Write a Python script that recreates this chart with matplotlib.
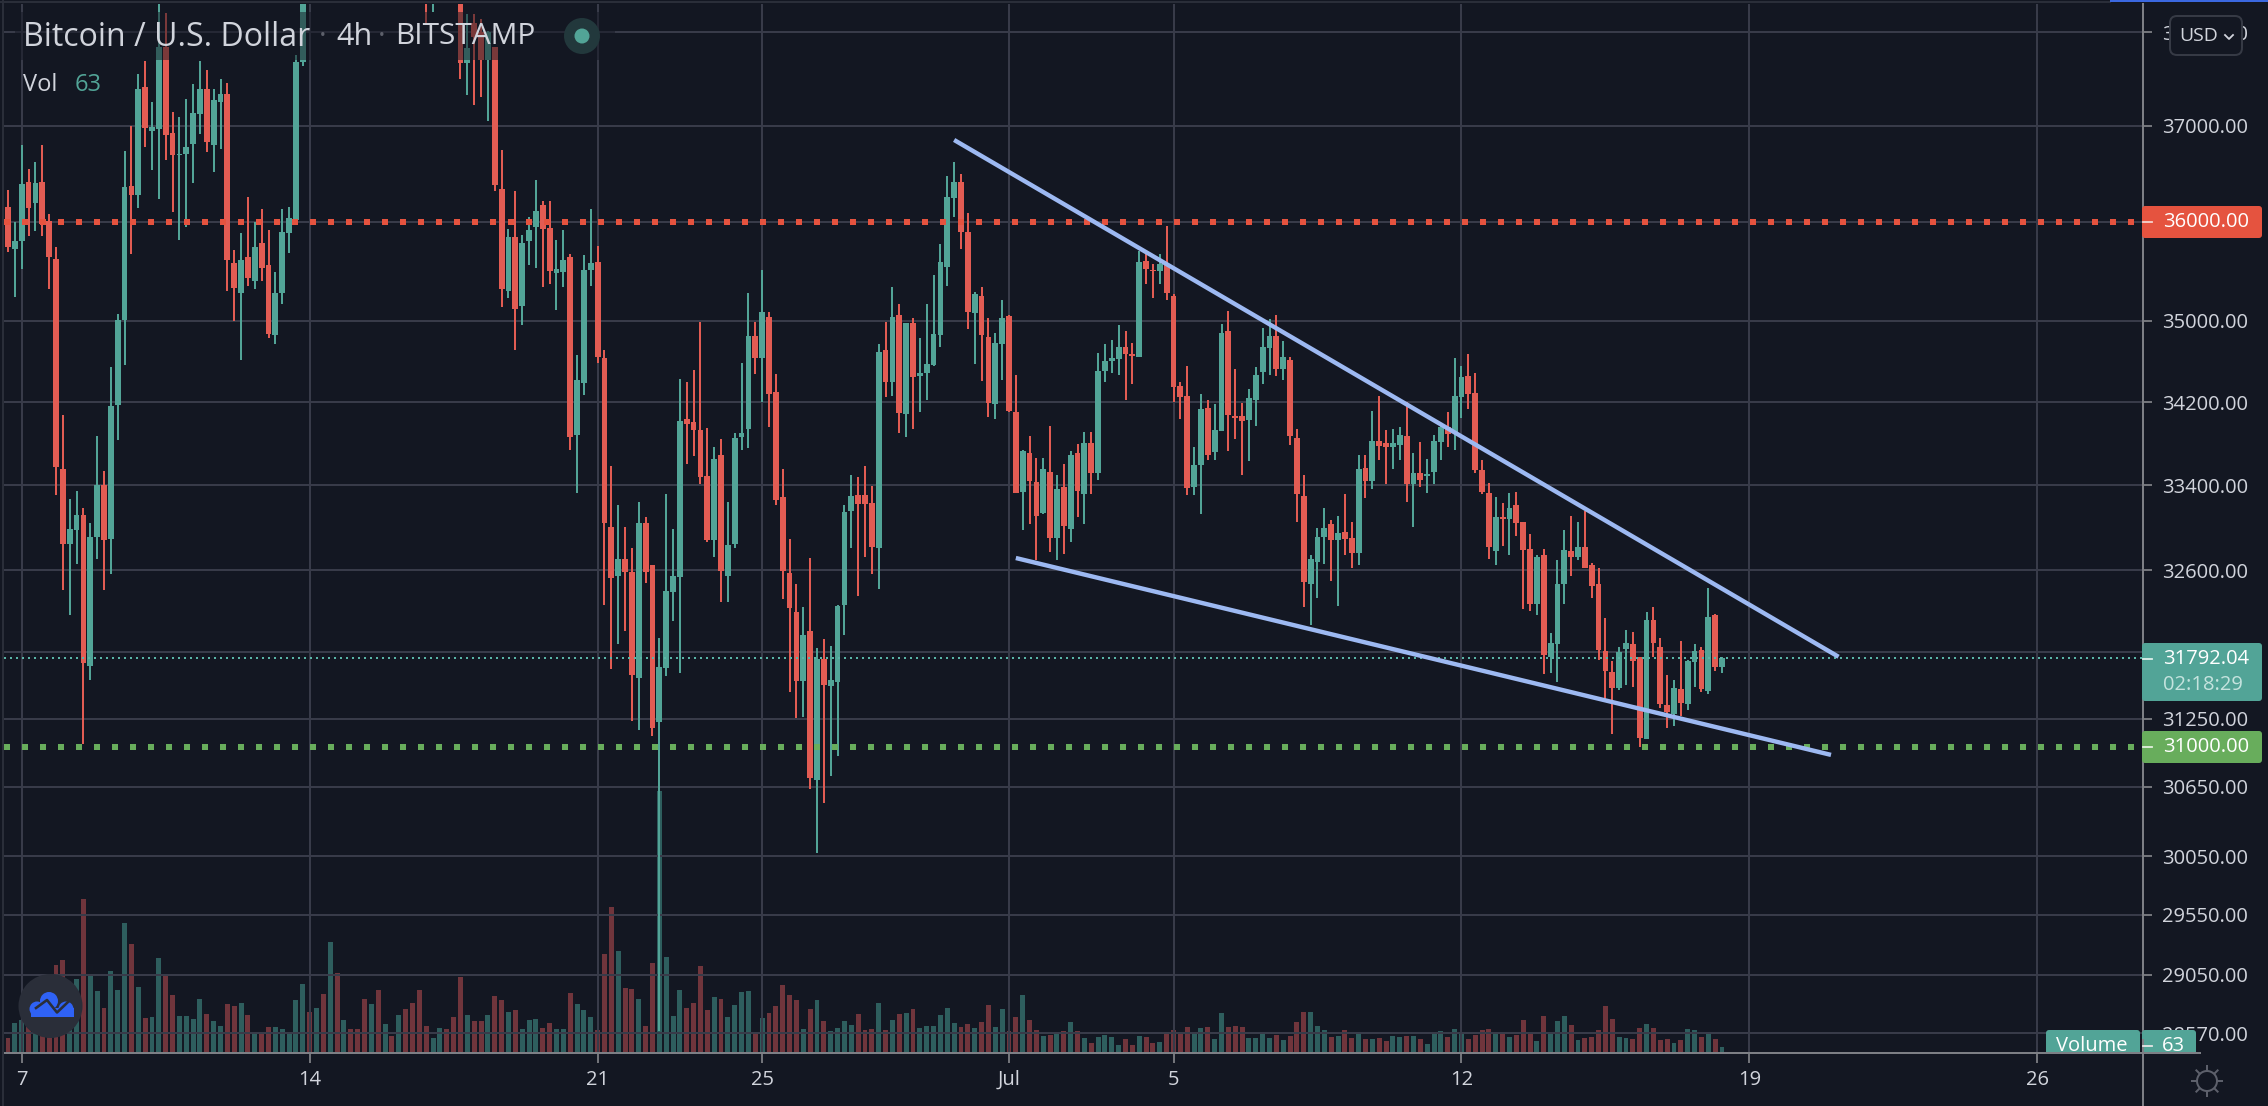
import numpy as np
import matplotlib
matplotlib.use("Agg")
import matplotlib.pyplot as plt
from matplotlib.patches import Rectangle, Circle, FancyBboxPatch

plt.rcParams['font.family'] = ['Open Sans', 'DejaVu Sans']

# ---------------- data (4h candles, Bitcoin / U.S. Dollar, BITSTAMP) ----------------
opens = [36157,35721,35804,36414,36192,36414,36015,35623,33554,32848,
 32973,33117,31720,32915,33400,32892,34172,35010,36374,36283,
 37417,36950,36970,37844,36924,36697,36707,36808,37130,37396,
 36798,37250,37339,35588,35285,35647,35402,35784,35564,34856,
 35285,35892,36025,37677,38800,38600,39200,39000,39900,39600,
 39800,39600,39400,38900,39400,38800,38950,38800,39300,38900,
 38600,38500,38350,38800,39200,39100,38800,37666,38104,38000,
 37703,37844,36343,35304,35843,35147,35804,35951,36177,35941,
 35485,35490,35647,33882,34387,35510,35593,34631,33007,32551,
 32708,32587,31612,33043,32650,31224,31703,32402,32542,34037,
 34005,33926,33484,32885,33688,32551,32849,33860,33935,34850,
 34636,35044,34296,33287,32578,32218,31586,32039,30708,31785,
 31543,31582,32281,33156,33305,33305,33233,32803,34708,34392,
 35064,34088,34976,34454,34483,34568,34856,35542,36252,36417,
 35901,35079,35251,34837,34177,34770,35049,34107,33332,33712,
 33428,33133,33530,32903,33382,32989,33707,33314,33800,33516,
 34502,34602,34622,34746,34669,34645,35606,35512,35502,35566,
 35251,34353,34262,33386,33590,34141,33715,33922,34902,34063,
 34067,34030,34223,34498,34736,34853,34525,34615,33852,33293,
 32476,32681,32912,33033,32884,32959,32905,32763,33563,33437,
 33823,33804,33767,33786,33871,33407,33515,33489,33523,33815,
 33963,33904,34249,34457,34290,33541,33322,32784,33094,33080,
 33211,33055,32802,32285,32738,31805,31924,32469,32784,32727,
 32820,32653,32469,31857,31672,31528,31878,31924,31805,31069,
 32144,31896,31373,31291,31517,31384,31761,31868,31500,32190,
 31716]
closes = [35745,35809,36394,36141,36404,35980,35642,33578,32848,32987,
 33117,31750,32915,33400,32883,34167,35010,36359,36283,37396,
 36975,36990,37844,36909,36697,36707,36778,37141,37396,36833,
 37271,37339,35613,35334,35618,35431,35745,35534,34871,35279,
 35897,36040,37677,38800,38600,39200,39000,39900,39600,39800,
 39600,39400,38900,39400,38800,38950,38800,39300,38900,38600,
 38500,38350,38800,39200,39100,38800,37672,37833,37948,37703,
 38000,36379,35324,35843,35123,35784,35917,36116,35931,35500,
 35520,35613,33859,34416,35515,35583,34641,33043,32524,32708,
 32587,31642,33043,32587,31168,31712,32411,32551,34014,33986,
 33926,33474,32885,33646,32595,32840,33851,33898,34850,34631,
 35089,34281,33260,32595,32254,31586,32003,30723,31790,31552,
 31595,32272,33147,33296,33219,33219,32821,34689,34392,35044,
 34098,34976,34444,34483,34578,34866,35596,36262,36417,35901,
 35089,35271,34856,34195,34780,35025,34112,33328,33730,33442,
 33111,33558,32903,33368,33016,33688,33341,33800,33516,34502,
 34602,34631,34746,34669,34650,35596,35522,35502,35576,35280,
 34348,34253,33373,33591,34133,33693,33930,34879,34078,34048,
 34019,34241,34469,34744,34853,34525,34646,33871,33315,32487,
 32709,32912,32998,32884,32951,32894,32763,33552,33437,33823,
 33775,33767,33804,33882,33407,33515,33445,33504,33823,33956,
 33889,34260,34446,34279,33541,33332,32820,33101,33080,33183,
 33044,32791,32288,32727,31826,31931,32469,32791,32727,32820,
 32625,32458,31867,31678,31528,31850,31931,31768,31079,32137,
 31931,31384,31312,31528,31387,31768,31857,31517,32172,31716,
 31792]
highs = [36333,36000,36798,36545,36621,36798,36081,35745,34078,33265,
 33346,33184,33041,33868,33531,34545,35069,36737,37000,37557,
 37687,37250,38400,38208,37146,37100,37287,37443,37687,37593,
 37396,37500,37453,35716,35892,36263,36005,36131,35917,35490,
 36131,36152,37760,38900,39000,39300,39400,40000,40200,39900,
 40000,39700,39500,39500,39500,39000,39000,39400,39400,39000,
 38800,38700,38900,39300,39300,39200,38900,38198,38198,38146,
 38015,37844,36748,35931,36318,35873,36055,36434,36217,36217,
 35819,35917,35676,34665,35666,36131,35755,34708,33586,33215,
 33000,32803,33242,33102,32650,31976,33314,32989,34430,34392,
 34516,34990,33944,33763,33842,33242,33898,34588,35283,34986,
 35512,35089,34473,33553,32894,32475,32263,32717,31886,31967,
 31904,32281,33210,33493,33474,33581,33391,34770,34986,35340,
 35168,34976,35025,34832,35172,35463,35778,36478,36623,36498,
 36091,35291,35340,35025,34885,35207,35059,34463,33735,33870,
 33661,33661,33972,33493,33600,33730,33791,33912,33912,34679,
 34770,34808,34957,34899,34784,35704,35689,35576,35679,35956,
 35271,34401,34550,33763,34279,34219,34181,34970,35097,34521,
 34189,34328,34548,34928,35019,35058,34804,34646,33941,33493,
 32745,32998,33183,33069,33108,33315,33055,33686,33689,34115,
 34260,33930,33941,33960,34200,33708,33815,33649,33882,33982,
 34104,34631,34554,34676,34487,33638,33422,33286,33229,33322,
 33332,33055,32937,32745,32802,32023,32699,32980,33108,33055,
 33158,32668,32618,32155,31768,31896,32052,32034,31805,32211,
 32264,31974,31645,31600,31953,31775,31924,31896,32438,32200,
 31805]
lows = [35696,35245,35525,35858,35907,35858,35319,33310,32420,32185,
 32658,31025,31593,32703,32420,32569,33830,34559,35672,36147,
 36778,36535,36242,36646,36106,35814,35951,36404,36914,36727,
 36515,36763,35304,35000,34617,35353,35319,35402,34832,34770,
 35167,35682,36015,37641,38500,38500,38900,38900,39500,39500,
 39500,39300,38800,38800,38700,38700,38700,38700,38800,38500,
 38400,38083,38224,38700,39000,38700,37500,37328,37219,37312,
 37052,36318,35137,35235,34708,34962,35559,35530,35343,35373,
 35108,35343,33737,33328,34272,35353,34588,32281,31693,31922,
 32039,31233,31151,32479,31099,28590,31634,32133,31660,33600,
 33679,33409,32867,32727,32308,32308,32808,33735,33753,34473,
 34200,33954,33210,32335,31491,31259,31267,30633,30079,30511,
 30744,30923,32003,32812,32358,32727,32569,32429,34253,34262,
 33898,33865,33935,34102,34224,34554,34737,35349,36055,35729,
 34919,34578,34406,34051,34033,34420,34107,33323,32980,33034,
 32695,33124,32772,32695,32754,32867,33102,33034,33314,33451,
 34392,34483,34463,34224,34382,34645,35369,35226,35374,35212,
 34200,34037,33305,33305,33129,33638,33645,33919,33726,33841,
 33496,33634,33967,34382,34464,34456,34419,33786,33048,32257,
 32091,32341,32656,32504,32274,32738,32617,32645,33275,33368,
 33641,33415,33552,33641,33240,33005,33379,33322,33415,33641,
 33767,33738,34041,34133,33515,33315,32709,32652,32830,32745,
 32923,32239,32228,32183,31651,31661,31579,32288,32543,32699,
 32625,32341,31781,31418,31113,31507,31552,31535,31000,31069,
 31805,31343,31168,31185,31271,31329,31535,31490,31473,31679,
 31661]
volumes = [169,347,390,331,449,331,292,1032,1091,528,
 867,1812,902,725,524,961,737,1529,1281,772,
 406,418,1115,914,678,429,429,394,630,453,
 370,311,571,548,583,441,229,217,299,299,
 276,217,619,808,477,524,690,1304,938,382,
 276,276,630,571,737,335,193,441,512,583,
 737,311,169,288,276,418,890,441,370,370,
 441,666,619,477,500,276,382,394,288,347,
 276,276,701,571,500,418,264,1162,1718,1198,
 760,749,630,311,1056,3085,1127,429,737,524,
 583,1020,500,654,630,418,559,713,725,217,
 406,465,548,796,678,619,276,512,619,370,
 252,288,370,323,453,264,276,583,264,382,
 453,465,512,288,311,311,441,524,347,299,
 335,288,359,559,299,512,252,418,678,382,
 264,193,205,240,252,359,252,169,110,181,
 205,181,87,158,87,193,181,110,122,217,
 264,229,299,229,288,299,158,465,299,311,
 299,169,169,229,169,205,146,193,359,477,
 477,311,264,181,193,264,169,240,158,158,
 169,134,193,181,193,193,158,99,217,252,
 181,276,240,158,205,264,276,217,229,181,
 205,382,217,134,429,229,370,429,323,146,
 169,181,264,548,394,181,169,158,288,335,
 288,146,158,110,146,276,264,181,229,158,
 63]

price_ticks = [38000,37000,36000,35000,34200,33400,32600,31850,31250,30650,30050,29550,29050,28570]
price_labels = ['38000.00','37000.00','36000.00','35000.00','34200.00','33400.00','32600.00','',
                '31250.00','30650.00','30050.00','29550.00','29050.00','28570.00']
date_ticks = [2,44,86,110,146,170,212,254,296]       # candle index of each date
date_labels = ['7','14','21','25','Jul','5','12','19','26']

resistance = 36000
support = 31000
last_price = 31792.04
upper_trend_x, upper_trend_y = [138.0,267.0],[36853,31806]
lower_trend_x, lower_trend_y = [147.0,265.9],[32714,30929]

# ---------------- style ----------------
BG='#131722'; GRID='#383b49'; AXC='#7d7f85'; TXT='#d1d4dc'
UP='#52a497'; DOWN='#e25c53'
VUP='#4fb3a7'; VDOWN='#e0595c'
TREND='#9db9f2'; RES='#e5533f'; SUP='#68ad5c'
W,H=2268,1106
px=0.72

fig=plt.figure(figsize=(W/100,H/100),dpi=100,facecolor=BG)
rect=[4/W,(H-1052.5)/H,(2143-4)/W,(1052.5-4)/H]
xlim=((4-8)/6.856,(2143-8)/6.856)
ylim=(28414,38309)

axv=fig.add_axes(rect,zorder=1,facecolor=BG)
ax=fig.add_axes(rect,zorder=2,facecolor='none')

x=np.arange(len(opens))
o,h,l,c=map(np.array,(opens,highs,lows,closes))
up=c>=o

axv.bar(x,volumes,width=0.72,color=[VUP if u else VDOWN for u in up],alpha=0.46,linewidth=0)
axv.set_xlim(xlim); axv.set_ylim(0,12393); axv.axis('off')

ax.set_yscale('log')
ax.set_xlim(xlim); ax.set_ylim(ylim)
ax.set_axisbelow(True)
ax.grid(True,which='major',color=GRID,linewidth=2*px)
ax.minorticks_off()
ax.set_yticks(price_ticks,price_labels)
ax.set_xticks(date_ticks,date_labels)
ax.yaxis.tick_right()
ax.yaxis.set_minor_locator(matplotlib.ticker.NullLocator())
ax.tick_params(axis='y',length=9*px,width=1.8*px,color=AXC,labelcolor=TXT,labelsize=14.5,pad=10*px)
ax.tick_params(axis='x',length=9.5*px,width=1.8*px,color=AXC,labelcolor=TXT,labelsize=14.5,pad=8*px)
for s in ('top','left'):
    ax.spines[s].set_visible(False)
for s in ('right','bottom'):
    ax.spines[s].set_color(AXC); ax.spines[s].set_linewidth(2*px)

colors=[UP if u else DOWN for u in up]
ax.vlines(x,l,h,colors=colors,linewidth=2*px,zorder=3)
top=np.maximum(o,c); bot=np.minimum(o,c)
ax.bar(x,top-bot,bottom=bot,width=5.8/6.856,color=colors,linewidth=0,zorder=4)

ax.plot(xlim,[resistance]*2,color=RES,lw=6*px,ls=(0,(1,2)),dash_capstyle='butt',zorder=5)
ax.plot(xlim,[support]*2,color=SUP,lw=6*px,ls=(0,(1,2)),dash_capstyle='butt',zorder=5)
ax.plot(xlim,[last_price]*2,color='#5ab5a7',lw=2*px,ls=(0,(1,2)),dash_capstyle='butt',zorder=5)
ax.plot(upper_trend_x,upper_trend_y,color=TREND,lw=4.4*px,solid_capstyle='butt',zorder=6)
ax.plot(lower_trend_x,lower_trend_y,color=TREND,lw=4.4*px,solid_capstyle='butt',zorder=6)

# ---------------- overlay furniture in pixel space ----------------
ov=fig.add_axes([0,0,1,1],zorder=5,facecolor='none')
ov.set_xlim(0,W); ov.set_ylim(H,0); ov.axis('off')

def tag(x0,x1,y0,y1,color,z=3):
    ov.add_patch(FancyBboxPatch((x0+3,y0+3),x1-x0-6,y1-y0-6,boxstyle='round,pad=3,rounding_size=3',
                                fc=color,ec='none',zorder=z))

# dimmed band behind the title
ov.add_patch(Rectangle((15,12),600,48,fc=BG,ec='none',alpha=0.5,zorder=1))
ov.text(23,37,'Bitcoin / U.S. Dollar',color=TXT,fontsize=23,va='center',ha='left',zorder=2)
ov.text(323,37,'·',color='#5d606b',fontsize=21,va='center',ha='center',zorder=2)
ov.text(336,37,'4h',color=TXT,fontsize=22,va='center',ha='left',zorder=2)
ov.text(381.5,37,'·',color='#5d606b',fontsize=21,va='center',ha='center',zorder=2)
ov.text(395,37,'BITSTAMP',color=TXT,fontsize=21.5,va='center',ha='left',zorder=2)
ov.add_patch(Circle((582,36),18,fc='#22383c',ec='none',zorder=2))
ov.add_patch(Circle((582,36),7.5,fc=UP,ec='none',zorder=3))
ov.text(23,85,'Vol',color=TXT,fontsize=17,va='center',ha='left',zorder=2)
ov.text(75,85,'63',color=UP,fontsize=17,va='center',ha='left',zorder=2)

# price tags
tag(2142,2262,206,238,RES)
ov.text(2163,222,'36000.00',color='white',fontsize=14.5,va='center',ha='left',zorder=4)
tag(2142,2262,731,763,'#68ad5c')
ov.text(2163,747,'31000.00',color='white',fontsize=14.5,va='center',ha='left',zorder=4)
tag(2142,2262,643,701,UP)
ov.text(2163,659,'31792.04',color='white',fontsize=14.5,va='center',ha='left',zorder=4)
ov.text(2163,685,'02:18:29',color='#c5e3de',fontsize=14.5,va='center',ha='left',zorder=4)
tag(2046,2140,1030,1062,UP)
tag(2142,2196,1030,1062,UP)
ov.text(2056,1046,'Volume',color='white',fontsize=14.5,va='center',ha='left',zorder=4)
ov.text(2162,1046,'63',color='white',fontsize=14.5,va='center',ha='left',zorder=4)
ov.add_patch(Rectangle((2040,1053),160,9,fc=BG,ec='none',zorder=5))
ov.plot([2040,2200],[1052.5,1052.5],color=AXC,lw=2*px,zorder=6)
ov.plot([2143,2143],[1040,1106],color=AXC,lw=2*px,zorder=6)
ov.plot([2143,2152],[1046,1046],color='#e6e6e6',lw=1.8*px,zorder=6)
ov.plot([2143,2152],[222,222],color='#f5d5cf',lw=1.8*px,zorder=6)
ov.plot([2143,2152],[747,747],color='#e3f0df',lw=1.8*px,zorder=6)
ov.plot([2143,2152],[659,659],color='#dff0ec',lw=1.8*px,zorder=6)

# USD button
ov.add_patch(FancyBboxPatch((2176,22),60,27,boxstyle='round,pad=6,rounding_size=7',fc=BG,ec='#363a45',lw=2*px,zorder=3))
ov.text(2199,36,'USD',color=TXT,fontsize=14,va='center',ha='center',zorder=4)
ov.plot([2225,2229,2233],[35,39,35],color=TXT,lw=1.8*px,zorder=4)

# window edges
ov.plot([0,2110],[2,2],color='#2a2e39',lw=2*px,zorder=1)
ov.add_patch(Rectangle((2110,0),158,2.2,fc='#3b68e0',ec='none',zorder=2))
ov.plot([3,3],[0,H],color='#2a2e39',lw=2*px,zorder=1)

# logo
ov.add_patch(Circle((50.5,1006),32,fc='#2a2e39',ec='none',zorder=3))
for cx,cy,r in [(49,1001,9),(37,1009,7.5),(66,1009,7.5)]:
    ov.add_patch(Circle((cx,cy),r,fc='#2f62f5',ec='none',zorder=4))
ov.add_patch(Rectangle((31,1008),43,9,fc='#2f62f5',ec='none',zorder=4))
ov.plot([36,47,57,68],[1008,1000,1012.5,1002],color='#2a2e39',lw=2.6*px,zorder=5)

# settings gear
ov.add_patch(Circle((2207,1081),10,fc='none',ec='#5d606b',lw=2*px,zorder=3))
for a in np.arange(8)*np.pi/4:
    ov.plot([2207+11*np.cos(a),2207+15*np.cos(a)],[1081+11*np.sin(a),1081+15*np.sin(a)],color='#5d606b',lw=2*px,zorder=3)

fig.savefig('out.png',dpi=100,facecolor=BG)
